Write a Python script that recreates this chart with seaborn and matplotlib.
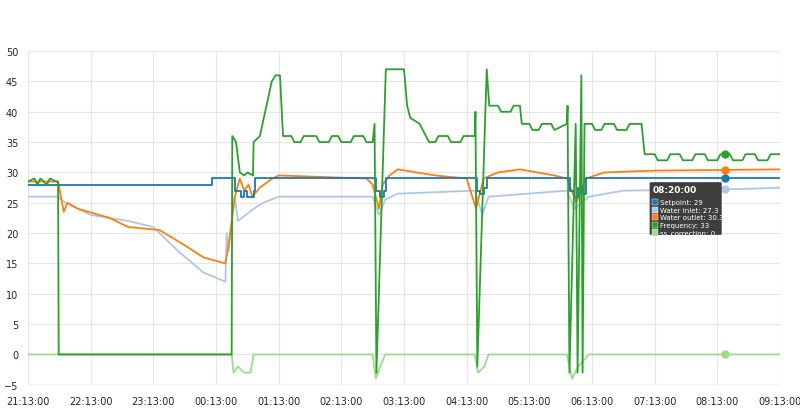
import matplotlib
matplotlib.use("Agg")
import matplotlib.pyplot as plt
from matplotlib.patches import FancyBboxPatch, Rectangle
import seaborn as sns
import pandas as pd
import numpy as np

# time in hours after 21:13
sp_t = [0, 2.92, 2.93, 3.25, 3.3, 3.4, 3.45, 3.5, 3.55, 3.6, 3.62, 5.5, 5.55, 5.62, 5.68, 5.72, 7.13, 7.17, 7.22, 7.28, 7.32, 8.6, 8.65, 8.72, 8.78, 8.85, 8.9, 12]
sp_v = [28, 28, 29, 29, 27, 26, 27, 26, 26, 27, 29, 29, 27, 26, 27, 29, 29, 27, 26.5, 27.5, 29, 29, 27, 26, 27.5, 26.5, 29, 29]

wi_t = [0, 0.48, 0.6, 1.0, 1.6, 2.0, 2.4, 2.8, 3.15, 3.17, 3.2, 3.3, 3.35, 3.6, 3.75, 4.0, 5.5, 5.6, 5.7, 5.9, 7.13, 7.25, 7.35, 8.6, 8.72, 8.95, 9.5, 11.5, 12]
wi_v = [26, 26, 25, 23, 22, 21, 17, 13.5, 12, 20, 17, 26, 22, 24, 25, 26, 26, 23, 25.5, 26.5, 27, 23, 26, 27, 24, 26, 27, 27.3, 27.5]

wo_t = [0, 0.48, 0.57, 0.63, 0.8, 1.3, 1.6, 2.1, 2.5, 2.8, 3.15, 3.2, 3.3, 3.38, 3.45, 3.52, 3.58, 3.7, 3.9, 4.0, 5.4, 5.5, 5.6, 5.66, 5.77, 5.9, 6.5, 7.0, 7.15, 7.27, 7.5, 7.85, 8.4, 8.6, 8.75, 8.9, 9.2, 10, 12]
wo_v = [28.5, 28.5, 23.5, 25, 24, 22.5, 21, 20.5, 18, 16, 15, 18, 26, 29, 27, 28, 26, 27.5, 29, 29.5, 29, 28, 24, 28, 29.5, 30.5, 29.5, 29, 24, 29, 30, 30.5, 29.5, 29, 25, 29, 30, 30.3, 30.5]

fr_t = [0, 0.1, 0.15, 0.2, 0.3, 0.35, 0.45, 0.48, 0.49, 3.25, 3.26, 3.32, 3.38, 3.45, 3.5, 3.59, 3.6, 3.7, 3.89, 3.95, 4.02, 4.07,
        4.2, 4.25, 4.35, 4.4, 4.6, 4.65, 4.8, 4.85, 4.95, 5.0, 5.15, 5.2, 5.35, 5.4, 5.5, 5.53, 5.56, 5.71, 6.0, 6.05, 6.1, 6.25, 6.35, 6.4,
        6.5, 6.55, 6.7, 6.75, 6.9, 6.95, 7.13, 7.14, 7.17, 7.32, 7.36, 7.5, 7.55, 7.7, 7.75, 7.85, 7.88,
        8.0, 8.05, 8.15, 8.2, 8.35, 8.4, 8.6, 8.61, 8.64, 8.74, 8.77, 8.83, 8.85, 8.88,
        9.0, 9.05, 9.15, 9.2, 9.35, 9.4, 9.55, 9.6, 9.79, 9.84,
        10.0, 10.05, 10.2, 10.25, 10.4, 10.45, 10.6, 10.65, 10.8, 10.85, 11.0, 11.05, 11.2, 11.25, 11.4, 11.45, 11.6, 11.65, 11.8, 11.85, 12]
fr_v = [28.5, 29, 28, 29, 28, 29, 28.5, 28.5, 0, 0, 36, 35, 30, 29.5, 30, 29.5, 35, 36, 45, 46, 46, 36,
        36, 35, 35, 36, 36, 35, 35, 36, 36, 35, 35, 36, 36, 35, 35, 38, -3, 47, 47, 41, 39, 38, 36, 35,
        35, 36, 36, 35, 35, 36, 36, 40, -2, 47, 41, 41, 40, 40, 41, 41, 38,
        38, 37, 37, 38, 38, 37, 38, 41, -3, 38, -3, 46, -3, 38,
        38, 37, 37, 38, 38, 37, 37, 38, 38, 33,
        33, 32, 32, 33, 33, 32, 32, 33, 33, 32, 32, 33, 33, 32, 32, 33, 33, 32, 32, 33, 33]

ss_t = [0, 3.25, 3.28, 3.35, 3.45, 3.55, 3.6, 5.5, 5.55, 5.62, 5.7, 7.13, 7.18, 7.28, 7.35, 8.6, 8.68, 8.78, 8.95, 12]
ss_v = [0, 0, -3, -2, -3, -3, 0, 0, -4, -2, 0, 0, -3, -2, 0, 0, -4, -2, 0, 0]

tick_labels = ["21:13:00", "22:13:00", "23:13:00", "00:13:00", "01:13:00", "02:13:00", "03:13:00",
               "04:13:00", "05:13:00", "06:13:00", "07:13:00", "08:13:00", "09:13:00"]
hover_t = 11.12

series = [("Setpoint", sp_t, sp_v, "#1f77b4"), ("Water inlet", wi_t, wi_v, "#aec7e8"),
          ("Water outlet", wo_t, wo_v, "#ff7f0e"), ("Frequency", fr_t, fr_v, "#2ca02c"),
          ("ss_correction", ss_t, ss_v, "#98df8a")]

sns.set_theme(style="whitegrid")
plt.rcParams['font.family'] = ['DejaVu Sans']
fig = plt.figure(figsize=(8, 4.1), dpi=100)
ax = fig.add_axes([0.035, 0.059, 0.94, 0.814])
order = [1, 2, 0, 4, 3]
for i in order:
    name, t, v, c = series[i]
    df = pd.DataFrame({"t": t, "v": v})
    sns.lineplot(data=df, x="t", y="v", ax=ax, color=c, lw=1.3,
                 drawstyle="steps-post" if i == 0 else "default")
    hv = float(np.interp(hover_t, t, v))
    ax.plot([hover_t], [hv], "o", color=c, ms=5, zorder=5)

ax.set_xlim(0, 12)
ax.set_ylim(-5, 50)
ax.set_xticks(range(13))
ax.set_xticklabels(tick_labels, fontsize=7)
ax.set_yticks(range(-5, 51, 5))
ax.tick_params(axis="y", labelsize=7, pad=1)
ax.tick_params(axis="x", pad=2)
ax.set_xlabel(""); ax.set_ylabel("")
ax.grid(color="#e6e6e6", lw=0.8)
for s in ax.spines.values():
    s.set_visible(False)
ax.axhline(-5, color="#cccccc", lw=1)

# tooltip
x0, x1, y0, y1 = 9.92, 11.07, 19.7, 28.4
ax.add_patch(FancyBboxPatch((x0, y0), x1 - x0, y1 - y0, boxstyle="round,pad=0,rounding_size=0.08",
                            fc="#333333", ec="none", zorder=10, alpha=0.95))
ax.text(x0 + 0.04, y1 - 0.5, "08:20:00", color="white", fontsize=6.5, fontweight="bold",
        va="top", zorder=11)
names = ["Setpoint: 29", "Water inlet: 27.3", "Water outlet: 30.3", "Frequency: 33", "ss_correction: 0"]
for k, (nm, (_, _, _, c)) in enumerate(zip(names, series)):
    yy = y1 - 3.3 - k * 1.25
    ax.add_patch(Rectangle((x0 + 0.04, yy - 0.5), 0.1, 1.0, fc=c, ec="white", lw=0.3, zorder=11))
    ax.text(x0 + 0.17, yy, nm, color="white", fontsize=5, va="center", zorder=11)
fig.savefig("out.png", dpi=100)
